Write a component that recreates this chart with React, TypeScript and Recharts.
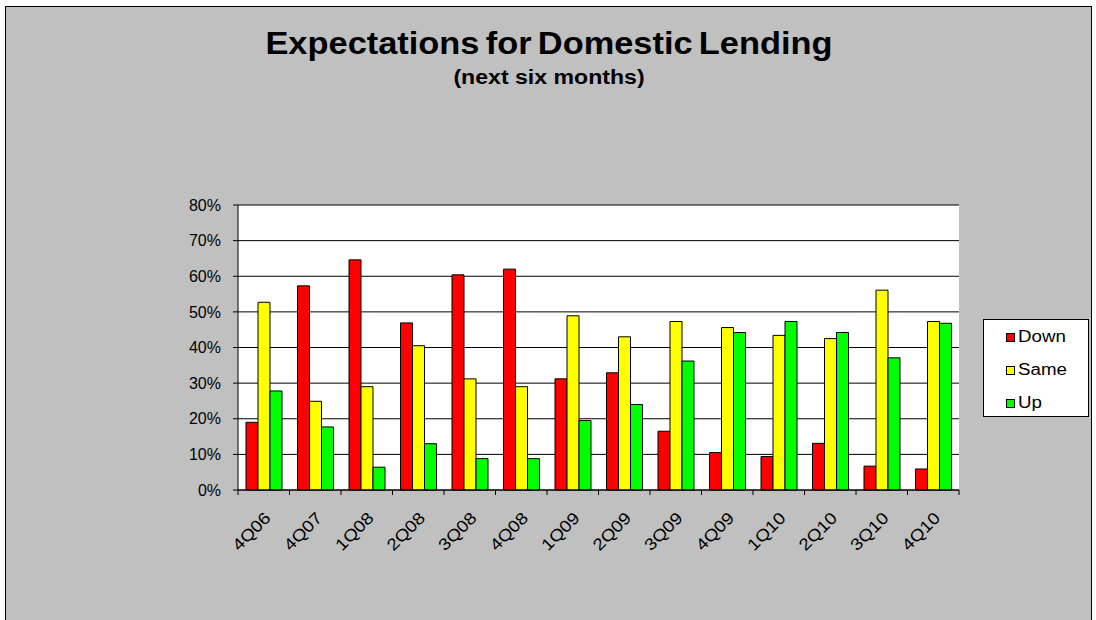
import React from 'react';
import { BarChart, Bar, XAxis, YAxis, CartesianGrid } from 'recharts';

const categories = ['4Q06', '4Q07', '1Q08', '2Q08', '3Q08', '4Q08', '1Q09', '2Q09', '3Q09', '4Q09', '1Q10', '2Q10', '3Q10', '4Q10'];
const downValues = [19.0, 57.3, 64.6, 46.9, 60.4, 62.0, 31.2, 32.9, 16.5, 10.5, 9.4, 13.1, 6.7, 5.9];
const sameValues = [52.7, 24.9, 29.0, 40.5, 31.2, 29.0, 48.9, 43.0, 47.3, 45.6, 43.4, 42.5, 56.1, 47.3];
const upValues = [27.8, 17.7, 6.4, 13.0, 8.8, 8.8, 19.5, 24.0, 36.2, 44.2, 47.3, 44.2, 37.1, 46.8];
const yTicks = [0, 10, 20, 30, 40, 50, 60, 70, 80];
const seriesNames = ['Down', 'Same', 'Up'];

const title = 'Expectations for Domestic Lending';
const subtitle = '(next six months)';

const colors: Record<string, string> = { Down: '#FF0000', Same: '#FFFF00', Up: '#00FF00' };
const FONT = '"Liberation Sans", Arial, Helvetica, sans-serif';

const W = 1096;
const H = 620;
const MARGIN = { top: 205, right: 137, bottom: 70, left: 178 };
const Y_AXIS_W = 60;
const PLOT_W = W - MARGIN.left - MARGIN.right - Y_AXIS_W;
const BAND = PLOT_W / categories.length;

const data = categories.map((q, i) => ({ q, Down: downValues[i], Same: sameValues[i], Up: upValues[i] }));

function XTick(props: any) {
  const { x, y, payload, index } = props;
  const last = index === categories.length - 1;
  return (
    <g>
      <line x1={x - BAND / 2} y1={y} x2={x - BAND / 2} y2={y + 5} stroke="#000" strokeWidth={1} />
      {last && <line x1={x + BAND / 2} y1={y} x2={x + BAND / 2} y2={y + 5} stroke="#000" strokeWidth={1} />}
      <text
        x={0}
        y={0}
        transform={`translate(${x + 8},${y + 29}) rotate(-45) scale(1.15,1)`}
        textAnchor="end"
        fontSize={16.5}
        fontFamily={FONT}
        fill="#000"
      >
        {payload.value}
      </text>
    </g>
  );
}

export default function App() {
  return (
    <div style={{ position: 'absolute', left: 0, top: 0, width: W, height: H, background: '#fff', overflow: 'hidden' }}>
      <div style={{ position: 'absolute', left: 5, top: 6, width: 1085, height: 640, background: '#C0C0C0', border: '1px solid #000' }} />
      <svg width={W} height={110} style={{ position: 'absolute', left: 0, top: 0 }}>
        <text x={0} y={0} transform="translate(549,54) scale(1.11,1)" textAnchor="middle" fontSize={31} fontWeight="bold" fontFamily={FONT} fill="#000" wordSpacing={-3}>
          {title}
        </text>
        <text x={0} y={0} transform="translate(549,84) scale(1.1,1)" textAnchor="middle" fontSize={21} fontWeight="bold" fontFamily={FONT} fill="#000">
          {subtitle}
        </text>
      </svg>
      <div style={{ position: 'absolute', left: 0, top: 0 }}>
        <BarChart width={W} height={H} data={data} margin={MARGIN} barGap={0}>
          <CartesianGrid vertical={false} stroke="#000" fill="#fff" fillOpacity={1} />
          <XAxis
            dataKey="q"
            interval={0}
            tickLine={false}
            tickSize={0}
            tickMargin={0}
            axisLine={{ stroke: '#000' }}
            height={60}
            tick={<XTick />}
          />
          <XAxis xAxisId="top" dataKey="q" orientation="top" height={0} tick={false} tickLine={false} axisLine={{ stroke: '#808080' }} />
          <YAxis
            domain={[0, 80]}
            ticks={yTicks}
            interval={0}
            tickFormatter={(v: number) => `${v}%`}
            width={Y_AXIS_W}
            tickSize={5}
            tickMargin={12}
            axisLine={{ stroke: '#000' }}
            tickLine={{ stroke: '#000' }}
            tick={{ fill: '#000', fontSize: 16, fontFamily: FONT }}
          />
          <YAxis yAxisId="r" orientation="right" width={0} domain={[0, 80]} tick={false} tickLine={false} axisLine={{ stroke: '#808080' }} />
          {seriesNames.map((s) => (
            <Bar key={s} dataKey={s} fill={colors[s]} stroke="#000" strokeWidth={1} barSize={12} isAnimationActive={false} />
          ))}
        </BarChart>
      </div>
      <div style={{ position: 'absolute', left: 983, top: 319, width: 104, height: 96, background: '#fff', border: '1px solid #000', fontFamily: FONT }}>
        {seriesNames.map((s, i) => (
          <div key={s} style={{ position: 'absolute', left: 22, top: 8 + i * 33, height: 18, display: 'flex', alignItems: 'center' }}>
            <div style={{ width: 7, height: 7, background: colors[s], border: '1px solid #000' }} />
            <span style={{ marginLeft: 3, fontSize: 16, lineHeight: '18px', color: '#000', display: 'inline-block', transform: 'scaleX(1.17)', transformOrigin: 'left center' }}>{s}</span>
          </div>
        ))}
      </div>
    </div>
  );
}
